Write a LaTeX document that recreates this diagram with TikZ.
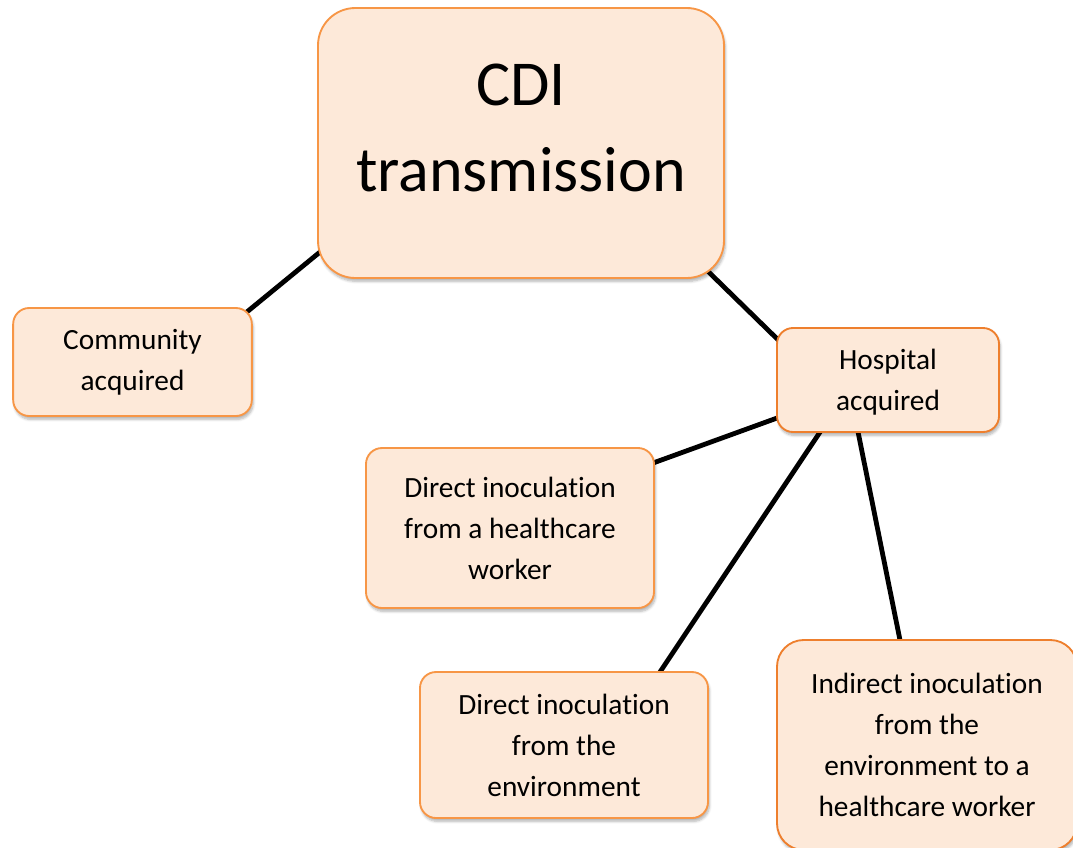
\documentclass[tikz,border=0pt]{standalone}
\usepackage{fontspec}
\setmainfont{Carlito}[Ligatures=NoCommon, RawFeature={-calt}]
\usetikzlibrary{positioning,shadows.blur,backgrounds}

\definecolor{boxfill}{HTML}{FDE9D9}
\definecolor{boxline}{HTML}{F79646}
\definecolor{boxlinedark}{HTML}{EE7F2D}

\tikzset{
    cdibox/.style={draw=boxline, line width=1.4pt, fill=boxfill, rounded corners=12pt,
        align=center, font=\fontsize{22}{30.75}\selectfont,
        blur shadow={shadow xshift=1pt, shadow yshift=-2.5pt, shadow blur steps=6, shadow opacity=30}},
    link/.style={line width=3.6pt, black}
}

\begin{document}
\begin{tikzpicture}[x=0.75pt, y=-0.75pt]
    \useasboundingbox (0,0) rectangle (1073,847);

    % Top box (text sits a bit above the middle)
    \node[cdibox, rounded corners=28pt, minimum width=304.5pt, minimum height=202.5pt,
          font=\fontsize{48}{65}\selectfont, text depth=23pt] (cdi) at (521,143) {CDI\\transmission};

    % The two ways in
    \node[cdibox, minimum width=179pt, minimum height=81pt] (community) at (132.5,362) {Community\\acquired};
    \node[cdibox, draw=boxlinedark, minimum width=166.5pt, minimum height=78pt, text depth=-3pt] (hospital) at (888,380) {Hospital\\acquired};

    % Routes inside the hospital
    \node[cdibox, minimum width=216pt, minimum height=120pt] (directhcw) at (510,528) {Direct inoculation\\from a healthcare\\worker};
    \node[cdibox, minimum width=216pt, minimum height=109.5pt] (directenv) at (564,745) {Direct inoculation\\from the\\environment};
    \node[cdibox, draw=boxlinedark, rounded corners=20pt, minimum width=225pt, minimum height=157.5pt] (indirect) at (927,745) {Indirect inoculation\\from the\\environment to a\\healthcare worker};

    % Links, kept behind the boxes
    \begin{scope}[on background layer]
        \draw[link] ([shift={(-171,84.4)}]cdi.center) -- ([shift={(87.5,-28)}]community.center);
        \draw[link] ([shift={(159,101)}]cdi.center) -- ([shift={(-78,-9)}]hospital.center);
        \draw[link] ([shift={(-88,29.7)}]hospital.center) -- ([shift={(110,-53)}]directhcw.center);
        \draw[link] ([shift={(-53.3,30)}]hospital.center) -- ([shift={(84,-55)}]directenv.center);
        \draw[link] ([shift={(-34.4,30)}]hospital.center) -- ([shift={(-23,-85)}]indirect.center);
    \end{scope}
\end{tikzpicture}
\end{document}
